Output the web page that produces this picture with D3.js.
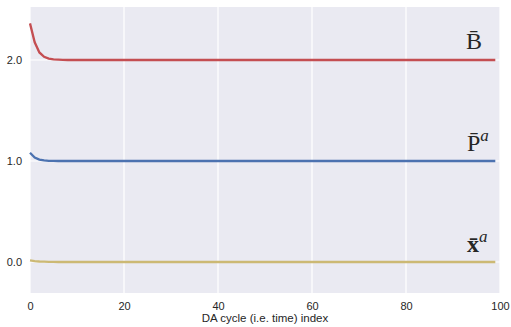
<!DOCTYPE html>
<html>
<head>
<meta charset="utf-8">
<script src="https://cdn.jsdelivr.net/npm/d3@7"></script>
<style>
  html, body { margin: 0; padding: 0; background: #ffffff; }
  svg { display: block; }
</style>
</head>
<body>
<div id="chart"></div>
<script>
// Datos: indice de ciclo DA y las tres series
const ciclos = d3.range(0, 100);
const serieB = [2.363, 2.175, 2.075, 2.032, 2.014, 2.006, 2.003, 2.001, 2.0, 2.0]
  .concat(new Array(90).fill(2.0));
const serieP = [1.082, 1.035, 1.014, 1.006, 1.002, 1.001, 1.0, 1.0, 1.0, 1.0]
  .concat(new Array(90).fill(1.0));
const serieX = [0.016, 0.009, 0.005, 0.003, 0.002, 0.001, 0.0, 0.0, 0.0, 0.0]
  .concat(new Array(90).fill(0.0));
const xTicks = [0, 20, 40, 60, 80, 100];
const yTicks = [0.0, 1.0, 2.0];

const width = 511;
const height = 327;
const margin = { top: 7, right: 11, bottom: 34, left: 30 };

const svg = d3.select('#chart').append('svg')
  .attr('width', width)
  .attr('height', height);

const x = d3.scaleLinear().domain([0, 100]).range([margin.left, width - margin.right]);
const y = d3.scaleLinear().domain([-0.307, 2.525]).range([height - margin.bottom, margin.top]);

// Fondo estilo seaborn
svg.append('rect')
  .attr('x', margin.left)
  .attr('y', margin.top)
  .attr('width', width - margin.left - margin.right)
  .attr('height', height - margin.top - margin.bottom)
  .attr('fill', '#eaeaf2');

// Rejilla
svg.append('g')
  .selectAll('line.vx')
  .data(xTicks)
  .enter().append('line')
  .attr('x1', d => x(d)).attr('x2', d => x(d))
  .attr('y1', margin.top).attr('y2', height - margin.bottom)
  .attr('stroke', '#ffffff').attr('stroke-width', 1.2);

svg.append('g')
  .selectAll('line.hy')
  .data(yTicks)
  .enter().append('line')
  .attr('x1', margin.left).attr('x2', width - margin.right)
  .attr('y1', d => y(d)).attr('y2', d => y(d))
  .attr('stroke', '#ffffff').attr('stroke-width', 1.2);

// Ejes
const xAxis = svg.append('g')
  .attr('transform', `translate(0,${height - margin.bottom})`)
  .call(d3.axisBottom(x).tickValues(xTicks).tickSize(0).tickPadding(9).tickFormat(d3.format('d')));
const yAxis = svg.append('g')
  .attr('transform', `translate(${margin.left},0)`)
  .call(d3.axisLeft(y).tickValues(yTicks).tickSize(0).tickPadding(8).tickFormat(d3.format('.1f')));

[xAxis, yAxis].forEach(g => {
  g.select('.domain').remove();
  g.selectAll('text')
    .attr('fill', '#262626')
    .style('font-family', 'Liberation Sans, Arial, sans-serif')
    .style('font-size', '11px');
});

svg.append('text')
  .attr('x', (margin.left + width - margin.right) / 2)
  .attr('y', height - 5)
  .attr('text-anchor', 'middle')
  .attr('fill', '#262626')
  .style('font-family', 'Liberation Sans, Arial, sans-serif')
  .style('font-size', '11.5px')
  .text('DA cycle (i.e. time) index');

// Lineas
const series = [
  { valores: serieB, color: '#c44e52' },
  { valores: serieP, color: '#4c72b0' },
  { valores: serieX, color: '#ccb974' }
];

const linea = d3.line()
  .x((d, i) => x(ciclos[i]))
  .y(d => y(d));

svg.append('g')
  .selectAll('path')
  .data(series)
  .enter().append('path')
  .attr('d', d => linea(d.valores))
  .attr('fill', 'none')
  .attr('stroke', d => d.color)
  .attr('stroke-width', 2.3);

// Etiquetas tipo LaTeX
function etiqueta(xPos, yPos, base, sup, negrita) {
  const t = svg.append('text')
    .attr('x', xPos)
    .attr('y', yPos)
    .attr('fill', '#262626')
    .style('font-family', 'Liberation Serif, DejaVu Serif, serif')
    .style('font-size', '24px');
  t.append('tspan')
    .style('font-weight', negrita ? 'bold' : 'normal')
    .text(base + '\u0304');
  if (sup) {
    t.append('tspan')
      .attr('dy', -10)
      .style('font-size', '17px')
      .style('font-style', 'italic')
      .text(sup);
  }
}

etiqueta(466, 49, 'B', null, false);
etiqueta(467, 151, 'P', 'a', false);
etiqueta(467, 252, 'x', 'a', true);
</script>
</body>
</html>
